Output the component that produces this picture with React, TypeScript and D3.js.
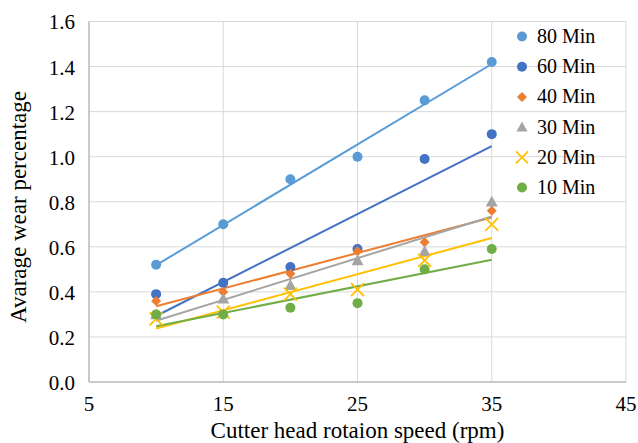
import React from "react";
import * as d3 from "d3";

const speeds = [10, 15, 20, 25, 30, 35];
const seriesNames = ["80 Min", "60 Min", "40 Min", "30 Min", "20 Min", "10 Min"];
const wear80 = [0.52, 0.7, 0.9, 1.0, 1.25, 1.42];
const wear60 = [0.39, 0.44, 0.51, 0.59, 0.99, 1.1];
const wear40 = [0.36, 0.4, 0.48, 0.58, 0.62, 0.76];
const wear30 = [0.3, 0.37, 0.43, 0.54, 0.58, 0.8];
const wear20 = [0.28, 0.31, 0.39, 0.41, 0.54, 0.7];
const wear10 = [0.3, 0.3, 0.33, 0.35, 0.5, 0.59];
const xTicks = [5, 15, 25, 35, 45];
const yTicks = [0, 0.2, 0.4, 0.6, 0.8, 1.0, 1.2, 1.4, 1.6];

const colors = ["#5B9BD5", "#4472C4", "#ED7D31", "#A5A5A5", "#FFC000", "#70AD47"];
const shapes = ["circle", "circle", "diamond", "triangle", "x", "circle"];

const FONT = "Liberation Serif";

const width = 638;
const height = 443;
const margin = { top: 21.5, right: 12, bottom: 61, left: 89 };

const x = d3.scaleLinear().domain([5, 45]).range([margin.left, width - margin.right]);
const y = d3.scaleLinear().domain([0, 1.6]).range([height - margin.bottom, margin.top]);

const allSeries = [wear80, wear60, wear40, wear30, wear20, wear10];

const Marker = ({ shape, color, cx, cy, size }) => {
  if (shape === "circle") return <circle cx={cx} cy={cy} r={size} fill={color} />;
  if (shape === "diamond") {
    const s = size;
    return <path d={`M${cx},${cy - s}L${cx + s},${cy}L${cx},${cy + s}L${cx - s},${cy}Z`} fill={color} />;
  }
  if (shape === "triangle") {
    const s = size + 0.5;
    return <path d={`M${cx},${cy - s}L${cx + s},${cy + s * 0.8}L${cx - s},${cy + s * 0.8}Z`} fill={color} />;
  }
  const s = size + 1;
  return (
    <path
      d={`M${cx - s},${cy - s}L${cx + s},${cy + s}M${cx + s},${cy - s}L${cx - s},${cy + s}`}
      stroke={color}
      strokeWidth={1.8}
      fill="none"
    />
  );
};

// least-squares linear trendline, as Excel draws it
const trend = (vals) => {
  const mx = d3.mean(speeds);
  const my = d3.mean(vals);
  const sxy = d3.sum(speeds, (s, k) => (s - mx) * (vals[k] - my));
  const sxx = d3.sum(speeds, (s) => (s - mx) * (s - mx));
  const slope = sxy / sxx;
  const icpt = my - slope * mx;
  const x0 = speeds[0];
  const x1 = speeds[speeds.length - 1];
  return { x1: x(x0), y1: y(icpt + slope * x0), x2: x(x1), y2: y(icpt + slope * x1) };
};

const App = () => {
  const tickStyle = { fontFamily: FONT, fontSize: "21px" };
  const titleStyle = { fontFamily: FONT, fontSize: "23px" };
  const legendStyle = { fontFamily: FONT, fontSize: "20px" };
  return (
    <div style={{ position: "fixed", left: 0, top: 0 }}>
      <svg width={width} height={height} style={{ display: "block", background: "white" }}>
        {/* gridlines */}
        {yTicks.map((d) => (
          <line key={`gy${d}`} x1={margin.left} x2={width - margin.right} y1={y(d)} y2={y(d)} stroke="#D9D9D9" />
        ))}
        {xTicks.map((d) => (
          <line key={`gx${d}`} x1={x(d)} x2={x(d)} y1={margin.top} y2={y(0)} stroke="#D9D9D9" />
        ))}
        {/* axis lines */}
        <line x1={margin.left} x2={width - margin.right} y1={y(0)} y2={y(0)} stroke="#BFBFBF" strokeWidth={1.5} />
        <line x1={x(5)} x2={x(5)} y1={margin.top} y2={y(0)} stroke="#BFBFBF" strokeWidth={1.5} />

        {/* tick labels */}
        {yTicks.map((d) => (
          <text key={`ty${d}`} x={margin.left - 14} y={y(d)} dy="0.38em" textAnchor="end" style={tickStyle}>
            {d.toFixed(1)}
          </text>
        ))}
        {xTicks.map((d) => (
          <text key={`tx${d}`} x={x(d)} y={y(0) + 29} textAnchor="middle" style={tickStyle}>
            {d}
          </text>
        ))}

        {/* axis titles */}
        <text x={x(25)} y={438} textAnchor="middle" style={titleStyle}>
          Cutter head rotaion speed (rpm)
        </text>
        <text transform={`translate(26,207) rotate(-90)`} textAnchor="middle" style={titleStyle}>
          Avarage wear percentage
        </text>

        {/* trendlines */}
        {allSeries.map((vals, i) => (
          <line key={`tr${i}`} {...trend(vals)} stroke={colors[i]} strokeWidth={2} />
        ))}

        {/* markers */}
        {allSeries.map((vals, i) => (
          <g key={`s${i}`}>
            {vals.map((v, k) => (
              <Marker
                key={k}
                shape={shapes[i]}
                color={colors[i]}
                cx={x(speeds[k])}
                cy={y(v)}
                size={shapes[i] === "x" || shapes[i] === "triangle" ? 5.5 : 5}
              />
            ))}
          </g>
        ))}

        {/* legend */}
        {seriesNames.map((name, i) => {
          const ly = 36.5 + i * 30.2;
          return (
            <g key={name}>
              <Marker shape={shapes[i]} color={colors[i]} cx={522} cy={ly} size={5} />
              <text x={537} y={ly + 6.5} style={legendStyle}>
                {name}
              </text>
            </g>
          );
        })}
      </svg>
    </div>
  );
};

export default App;
